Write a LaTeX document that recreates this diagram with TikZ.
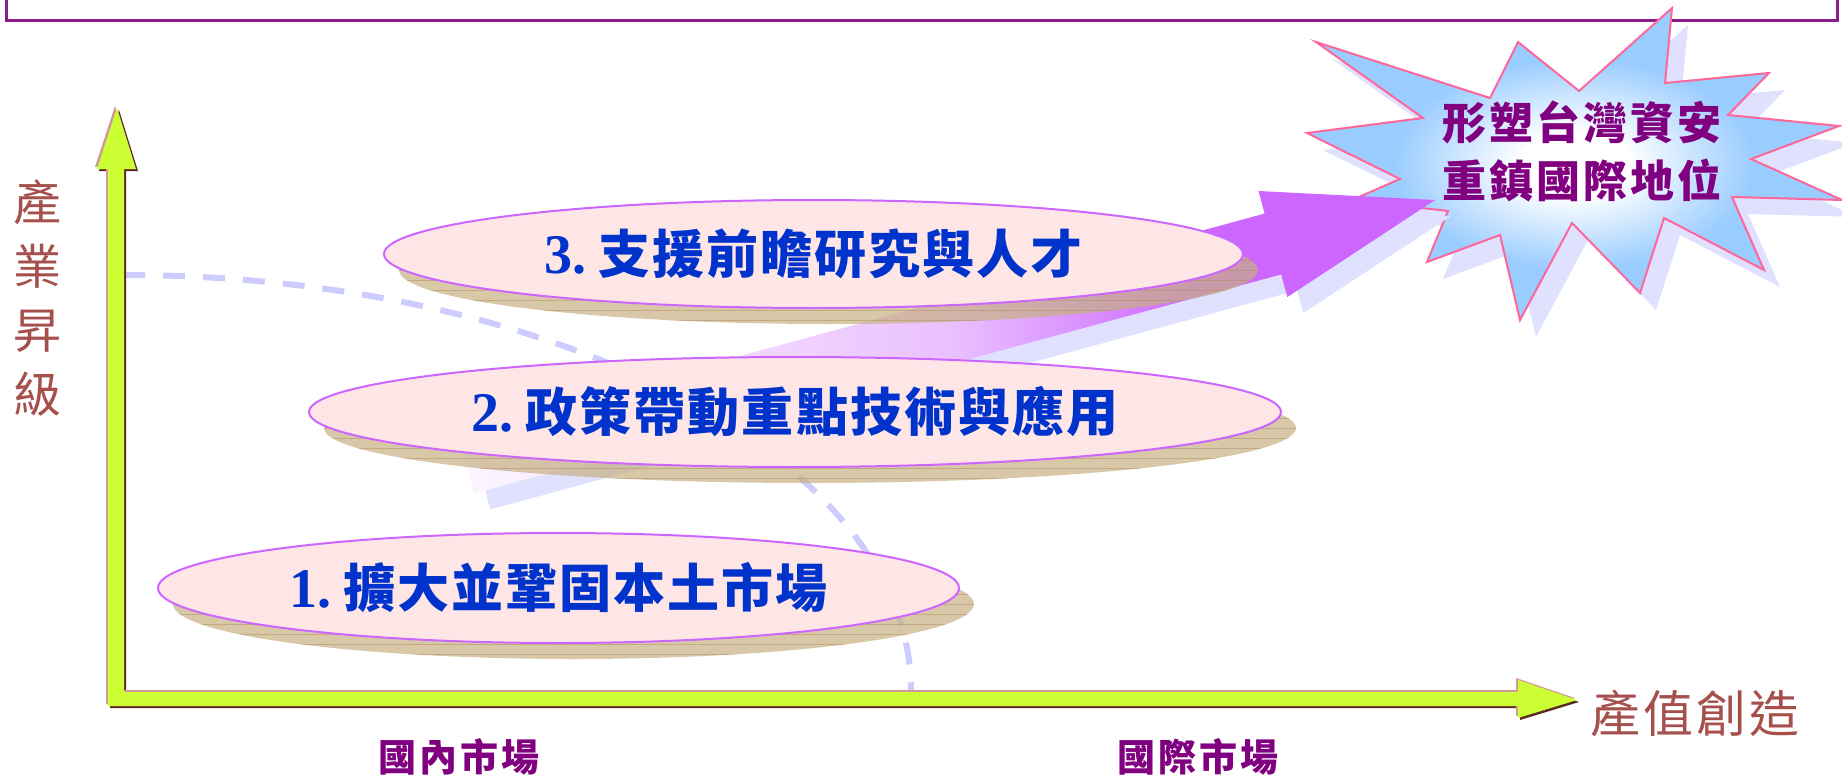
\documentclass[tikz,border=0pt]{standalone}
\usepackage{fontspec}
\usetikzlibrary{shapes.geometric}
\newfontfamily\cjk{Noto Sans CJK TC}
\newfontfamily\cjkE[LetterSpace=4]{Noto Sans CJK TC}
\newfontfamily\cjkS[LetterSpace=7]{Noto Sans CJK TC}
\newfontfamily\cjkX[LetterSpace=6]{Noto Sans CJK TC}
\newfontfamily\cjkM[LetterSpace=8]{Noto Sans CJK TC}
\newfontfamily\numf{Liberation Serif}
\definecolor{axisfill}{HTML}{CCFF33}
\definecolor{axisdark}{HTML}{5C2A22}
\definecolor{axislight}{HTML}{D09A98}
\definecolor{ellfill}{HTML}{FFE6E6}
\definecolor{elldraw}{HTML}{CC66FF}
\definecolor{shadowtan}{HTML}{C7B083}
\definecolor{hatch}{HTML}{A88A58}
\definecolor{txtblue}{HTML}{0033CC}
\definecolor{labred}{HTML}{A5504D}
\definecolor{mktpurple}{HTML}{800080}
\definecolor{dashblue}{HTML}{CCCCFF}
\definecolor{arrowpurple}{HTML}{CC66FF}
\definecolor{lavshadow}{HTML}{E0E0FF}
\definecolor{sky}{HTML}{99CCFF}
\definecolor{starpink}{HTML}{FF6699}
\definecolor{titlepurple}{HTML}{8B1C8B}
\pgfdeclareradialshading{starshade}{\pgfpoint{0bp}{0bp}}{color(0bp)=(white); color(5bp)=(white); color(17bp)=(sky); color(50bp)=(sky)}
\pgfdeclarehorizontalshading{arrowshade}{100bp}{color(0bp)=(arrowpurple!6); color(25bp)=(arrowpurple!6); color(50bp)=(arrowpurple!40); color(63bp)=(arrowpurple); color(100bp)=(arrowpurple)}
\newcommand\starshape[1]{\path[#1] (1672,8) -- (1665,83) -- (1769,73) -- (1728,115) -- (1839,126) -- (1751,159) -- (1842,200) -- (1732,197) -- (1764,270) -- (1664,218) -- (1640,293) -- (1572,223) -- (1520,320) -- (1500,235) -- (1427,262) -- (1448,211) -- (1352,200) -- (1400,179) -- (1307,133) -- (1423,118) -- (1316,42) -- (1490,98) -- (1518,42) -- (1579,91) -- cycle;}
\newcommand\bigarrow[1]{\path[#1] (457.7,432.6) -- (1264.6,213.6) -- (1258.5,191.0) -- (1435,200) -- (1287.3,297.1) -- (1281.2,274.4) -- (474.3,493.4) -- cycle;}
\newcommand\vaxis[1]{\path[#1] (108,704) -- (108,169) -- (97,169) -- (117,108) -- (136,169) -- (124,169) -- (124,704) -- cycle;}
\newcommand\haxis[1]{\path[#1] (108,692) -- (1518,692) -- (1518,680) -- (1577,700) -- (1518,718) -- (1518,706) -- (108,706) -- cycle;}
\newcommand\ellshadow[4]{%
  \begin{scope}
    \clip (#1,#2) ellipse [x radius=#3, y radius=#4];
    \fill[shadowtan, fill opacity=0.7] (#1,#2) ellipse [x radius=#3, y radius=#4];
    \foreach \k in {-6,...,6} \draw[hatch, line width=0.4pt, opacity=0.45, shift={(#1,#2)}] (-600,\k*10) -- (600,\k*10);
  \end{scope}}
\begin{document}
\begin{tikzpicture}[x=0.5pt,y=-0.5pt,
  ellbox/.style={ellipse, draw=elldraw, line width=1pt, fill=ellfill, inner sep=0pt,
    text=txtblue, font=\cjkE\bfseries\fontsize{26}{26}\selectfont},
  mkt/.style={text=mktpurple, font=\cjkM\bfseries\fontsize{19}{19}\selectfont},
  axlab/.style={text=labred, align=center},
  goaltext/.style={text=mktpurple, align=center, font=\cjkS\bfseries\fontsize{22}{29}\selectfont}]
\useasboundingbox (0,0) rectangle (1842,776);
% title frame
\draw[titlepurple, line width=1.5pt] (6,-30) rectangle (1837,20);
% star
\starshape{fill=lavshadow, shift={(16,17)}}
\starshape{shading=starshade, draw=starpink, line width=1pt}
\node[goaltext] (goal) at (1582,151) {形塑台灣資安\\重鎮國際地位};
% big arrow
\bigarrow{fill=lavshadow, shift={(16,16)}}
\bigarrow{shading=arrowshade}
% dashed curve
\coordinate (dashS) at (123,275);
\coordinate (dashE) at (911,690);
\draw[dashblue, line width=3pt, dash pattern=on 11pt off 9pt] (dashS) .. controls (558,275) and (911,461) .. (dashE);
% ellipses
\ellshadow{828.5}{270}{214.75pt}{27pt}
\node[ellbox, minimum width=429.5pt, minimum height=54pt] (e3) at (813.5,254)
  {{\numf\bfseries\fontsize{28}{28}\selectfont 3.}\hspace{6pt}支援前瞻研究與人才};
\ellshadow{810}{428}{243pt}{27.5pt}
\node[ellbox, minimum width=486pt, minimum height=55pt] (e2) at (795,412)
  {{\numf\bfseries\fontsize{28}{28}\selectfont 2.}\hspace{6pt}政策帶動重點技術與應用};
\ellshadow{573.5}{604}{200.25pt}{27.5pt}
\node[ellbox, minimum width=400.5pt, minimum height=55pt] (e1) at (558.5,588)
  {{\numf\bfseries\fontsize{28}{28}\selectfont 1.}\hspace{6pt}擴大並鞏固本土市場};
% axes
\vaxis{fill=axisdark, shift={(2,2)}}
\haxis{fill=axisdark, shift={(2,2)}}
\vaxis{fill=axislight, shift={(-2,-2)}}
\haxis{fill=axislight, shift={(-2,-2)}}
\vaxis{fill=axisfill}
\haxis{fill=axisfill}
% labels
\node[axlab, font=\cjk\fontsize{24}{32}\selectfont] (ylab) at (37,298) {產\\業\\昇\\級};
\node[axlab, font=\cjkX\fontsize{25}{25}\selectfont] (xlab) at (1695,714) {產值創造};
\node[mkt] (dom) at (459,757) {國內市場};
\node[mkt] (intl) at (1198,757) {國際市場};
\end{tikzpicture}
\end{document}
